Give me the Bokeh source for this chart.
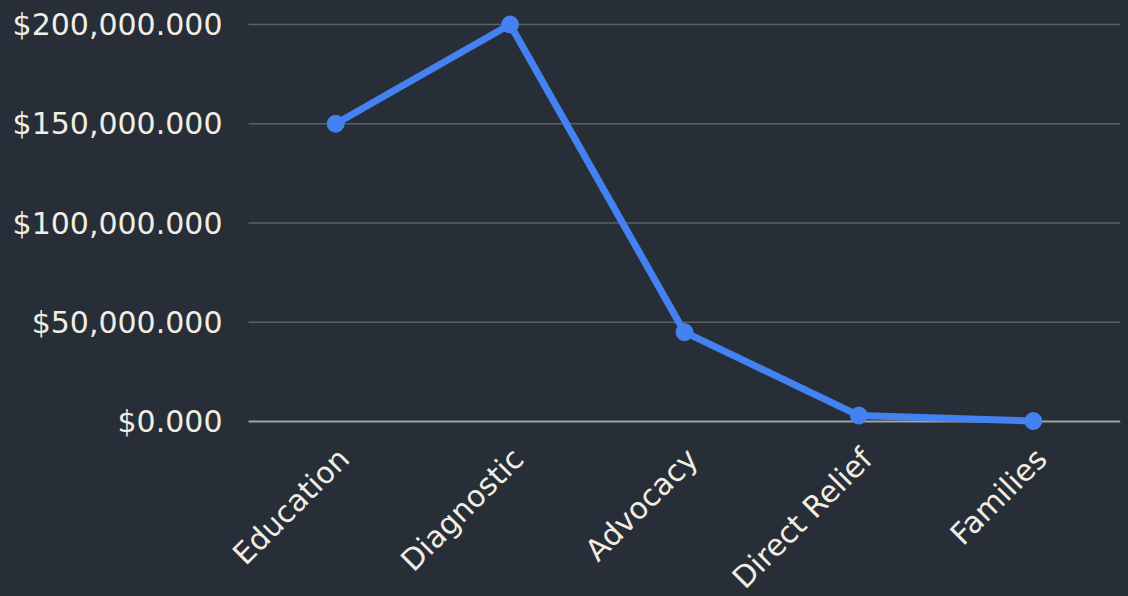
from bokeh.plotting import figure
from bokeh.models import Range1d
from bokeh.embed import file_html
from bokeh.resources import INLINE
from bokeh.core.properties import value
import math

categories = ["Education", "Diagnostic", "Advocacy", "Direct Relief", "Families"]
values = [150_000, 200_000, 45_000, 3_000, 200]
y_ticks = [0, 50_000, 100_000, 150_000, 200_000]
y_tick_labels = [f"${t:,.3f}" for t in y_ticks]

BG = "#272e38"
TXT = "#f1ede2"
LINE = "#4382f0"
GRID = "#5b6068"
ZERO = "#a2a3a6"
FONT = "DejaVu Sans"

n = len(categories)
xs = [i + 0.5 for i in range(n)]          # category centres, one unit per category

# frame covers the whole canvas; the label bands left of 0 and below 0 are part of it
p = figure(width=1128, height=596,
           x_range=Range1d(-1.422, n), y_range=Range1d(-88_160, 212_090),
           output_backend="svg", toolbar_location=None,
           background_fill_color=None, border_fill_color=BG,
           min_border_left=0, min_border_right=8, min_border_top=0, min_border_bottom=0)
p.outline_line_color = None
p.xaxis.visible = False
p.yaxis.visible = False
p.xgrid.visible = False
p.ygrid.visible = False

# horizontal grid lines across the category span
p.segment(x0=[0] * (len(y_ticks) - 1), y0=y_ticks[1:], x1=[n] * (len(y_ticks) - 1), y1=y_ticks[1:],
          line_color=GRID, line_width=1.5)
p.segment(x0=[0], y0=[y_ticks[0]], x1=[n], y1=[y_ticks[0]], line_color=ZERO, line_width=2)

# y tick labels
p.text(x=[0] * len(y_ticks), y=y_ticks, text=y_tick_labels,
       x_offset=-26, text_align="right", text_baseline="middle",
       text_color=TXT, text_font=value(FONT), text_font_size="30px")

# rotated category labels
p.text(x=xs, y=[0] * n, text=categories,
       x_offset=8, y_offset=32, angle=math.pi / 4,
       text_align="right", text_baseline="middle",
       text_color=TXT, text_font=value(FONT), text_font_size="30px")

p.line(xs, values, line_color=LINE, line_width=7)
p.scatter(xs, values, size=17, fill_color=LINE, line_color=LINE)

html = file_html(p, INLINE)
html = html.replace("</head>", f"<style>html,body{{background:{BG};}}</style></head>", 1)
open("out.html", "w").write(html)
